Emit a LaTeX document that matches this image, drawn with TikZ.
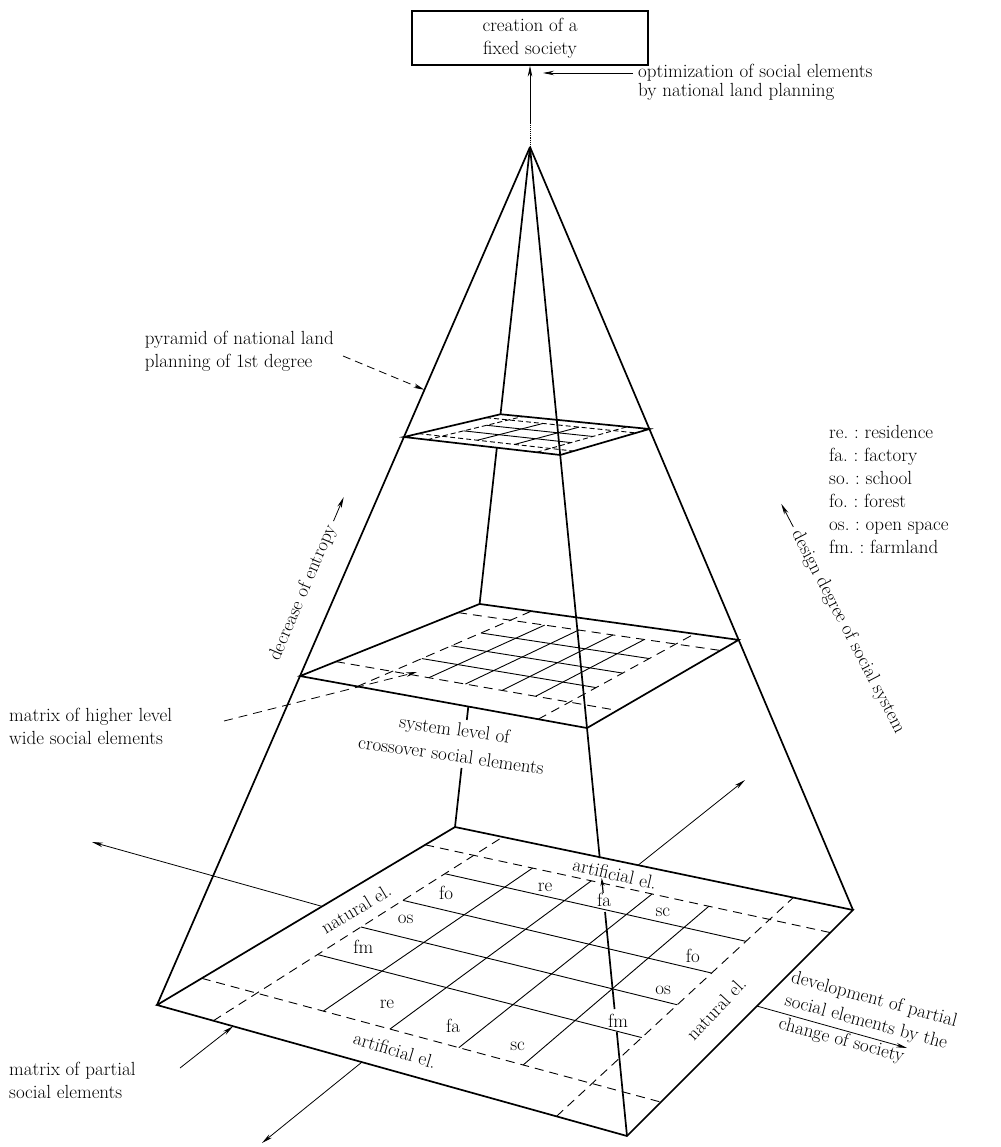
\documentclass[tikz,border=0pt]{standalone}
\usepackage{fontspec}
\usetikzlibrary{calc,arrows.meta}
\frenchspacing
\newcommand\lab{\fontsize{19}{23}\selectfont\addfontfeatures{LetterSpace=6}}
\newcommand\planept[4]{%
  \path ($(#1L)!#2!(#1F)$) coordinate (tmpa);
  \path ($(#1B)!#2!(#1R)$) coordinate (tmpb);
  \path ($(tmpa)!#3!(tmpb)$) coordinate (#4);}
% constant-u segment: plane, u, v0, v1, style
\newcommand\useg[5]{\planept{#1}{#2}{#3}{sa}\planept{#1}{#2}{#4}{sb}\draw[#5] (sa) -- (sb);}
% constant-v segment: plane, v, u0, u1, style
\newcommand\vseg[5]{\planept{#1}{#3}{#2}{sa}\planept{#1}{#4}{#2}{sb}\draw[#5] (sa) -- (sb);}
\begin{document}
\begin{tikzpicture}[x=1pt,y=-1pt,
  edge/.style={line width=1.7pt},
  planeline/.style={line width=1.7pt, line join=miter},
  gridl/.style={line width=0.9pt},
  dsh/.style={line width=0.9pt, dash pattern=on 9pt off 6pt},
  arr/.style={line width=0.8pt, -{Stealth[length=11pt,width=4.5pt]}},
  txt/.style={font=\lab, inner sep=1pt},
]
\useasboundingbox (0,0) rectangle (1000,1147);

% ---------- main points ----------
\coordinate (A) at (530,147);
\coordinate (bL) at (157,1005);
\coordinate (bB) at (455,827);
\coordinate (bR) at (853,910);
\coordinate (bF) at (627,1136);
\coordinate (mL) at ($(A)!0.6166!(bL)$);
\coordinate (mB) at ($(A)!0.672!(bB)$);
\coordinate (mR) at ($(A)!0.646!(bR)$);
\coordinate (mF) at ($(A)!0.5875!(bF)$);
\coordinate (uL) at ($(A)!0.338!(bL)$);
\coordinate (uB) at ($(A)!0.393!(bB)$);
\coordinate (uR) at ($(A)!0.3696!(bR)$);
\coordinate (uF) at ($(A)!0.3114!(bF)$);

% ---------- upper plane grid ----------
\foreach \u in {0.15,0.85} {\draw[dsh,dash pattern=on 5pt off 3pt] ($(uL)!\u!(uF)$) -- ($(uB)!\u!(uR)$);}
\foreach \v in {0.15,0.85} {\draw[dsh,dash pattern=on 5pt off 3pt] ($(uL)!\v!(uB)$) -- ($(uF)!\v!(uR)$);}
\foreach \u in {0.38,0.62} {\useg{u}{\u}{0.15}{0.85}{gridl}}
\foreach \v in {0.38,0.62} {\vseg{u}{\v}{0.15}{0.85}{gridl}}
\draw[planeline] (uL) -- (uB) -- (uR) -- (uF) -- cycle;

% ---------- middle plane grid ----------
\foreach \u in {0.2,0.83} {\draw[dsh] ($(mL)!\u!(mF)$) -- ($(mB)!\u!(mR)$);}
\foreach \v in {0.2,0.88} {\draw[dsh] ($(mL)!\v!(mB)$) -- ($(mF)!\v!(mR)$);}
\foreach \u in {0.33,0.46,0.59,0.71} {\useg{m}{\u}{0.2}{0.88}{gridl}}
\foreach \v in {0.37,0.54,0.71} {\vseg{m}{\v}{0.2}{0.83}{gridl}}
\draw[planeline] (mL) -- (mB) -- (mR) -- (mF) -- cycle;

% ---------- bottom plane grid ----------
\foreach \u in {0.12,0.85} {\draw[dsh] ($(bL)!\u!(bF)$) -- ($(bB)!\u!(bR)$);}
\foreach \v in {0.15,0.9} {\draw[dsh] ($(bL)!\v!(bB)$) -- ($(bF)!\v!(bR)$);}
\foreach \u in {0.265,0.41,0.56,0.70} {\useg{b}{\u}{0.15}{0.9}{gridl}}
\foreach \v in {0.36,0.51,0.655,0.80} {\vseg{b}{\v}{0.12}{0.85}{gridl}}
\draw[planeline] (bL) -- (bB) -- (bR) -- (bF) -- cycle;

% ---------- pyramid edges ----------
\draw[edge] (A) -- (bL);
\draw[edge] (A) -- (bR);
% front edge (drawn over planes, broken at labels)
\draw[edge] (A) -- ($(A)!0.7189!(bF)$);
\draw[line width=1.2pt, -{Stealth[length=8pt,width=4pt]}] ($(A)!0.7543!(bF)$) -- ($(A)!0.7391!(bF)$);
\draw[edge] ($(A)!0.7735!(bF)$) -- ($(A)!0.8716!(bF)$);
\draw[edge] ($(A)!0.8948!(bF)$) -- (bF);
% back edge (hidden behind planes)
\draw[edge] (A) -- (uB);
\coordinate (bk1) at (intersection of A--bB and uL--uF);
\draw[edge] (bk1) -- (mB);
\coordinate (bk2) at (intersection of A--bB and mL--mF);
\draw[edge] (bk2) -- ($(A)!0.8426!(bB)$);
\draw[edge] ($(A)!0.9132!(bB)$) -- (bB);

% ---------- top box and arrows ----------
\node[txt, draw, line width=1.3pt, minimum width=236pt, minimum height=54pt, align=center] (soc) at (530,38) {creation of a\\fixed society};
\coordinate (vtop) at (530,123);
\draw[densely dotted, line width=0.9pt] (A) -- (vtop);
\draw[arr] (vtop) -- (soc.south);
\node[txt, anchor=west, align=left, font=\fontsize{19}{19}\selectfont\addfontfeatures{LetterSpace=6}] (opt) at (637,82) {optimization of social elements\\by national land planning};
\coordinate (optT) at (633,73);
\coordinate (optH) at (543,73);
\draw[arr] (optT) -- (optH);

% ---------- side labels ----------
\node[txt, align=left, anchor=east] (pyr) at (335,351) {pyramid of national land\\planning of 1st degree};
\coordinate (pyrT) at (343,356);
\coordinate (pyrH) at ($(A)!0.283!(bL)$);
\draw[arr, dash pattern=on 8pt off 5pt] (pyrT) -- (pyrH);

\node[txt, align=left, anchor=west] (hml) at (8,726) {matrix of higher level\\wide social elements};
\coordinate (hmlT) at (224,721);
\coordinate (hmlH) at (417,672);
\draw[arr, dash pattern=on 9pt off 6pt] (hmlT) -- (hmlH);

\node[txt, align=left, anchor=west] (mpl) at (8,1080) {matrix of partial\\social elements};
\coordinate (mplT) at (180,1068);
\coordinate (mplH) at ($(bL)!0.162!(bF)$);
\draw[arr] (mplT) -- (mplH);

\node[txt, rotate=67] (ent) at (303,593) {decrease of entropy};
\draw[arr] ($(ent.east)+(67:4pt)$) -- ++(67:26pt);

\node[txt, rotate=-62.5] (des) at (848,632) {design degree of social system};
\draw[arr] ($(des.west)+(117.5:4pt)$) -- ++(117.5:26pt);

\node[txt, rotate=-8, align=center, font=\fontsize{19}{26}\selectfont\addfontfeatures{LetterSpace=6}] (sys) at (453,742) {system level of\\crossover social elements};

\node[txt, anchor=west, align=left] (leg) at (828,489) {re. : residence\\fa. : factory\\so. : school\\fo. : forest\\os. : open space\\fm. : farmland};

\node[txt, rotate=-15, align=left, anchor=north west, font=\fontsize{19}{24}\selectfont\addfontfeatures{LetterSpace=6}] (dev) at (793,968) {development of partial\\social elements by the\\change of society};

% ---------- axis arrows of the bottom plane ----------
\coordinate (axL) at (92,842);
\coordinate (axR) at (907,1048);
\coordinate (axB) at (745,780);
\coordinate (axF) at (262,1143);
\draw[arr] ($(bL)!0.554!(bB)$) -- (axL);
\draw[arr] ($(bF)!0.575!(bR)$) -- (axR);
\draw[arr] ($(bB)!0.46!(bR)$) -- (axB);
\draw[arr] ($(bL)!0.436!(bF)$) -- (axF);

% ---------- strip labels ----------
\node[txt, rotate=-17] (art1) at (395,1050) {artificial el.};
\node[txt, rotate=-13] (art2) at (615,874) {artificial el.};
\node[txt, rotate=31] (nat1) at (356,909) {natural el.};
\node[txt, rotate=47] (nat2) at (716,1009) {natural el.};

% ---------- cell labels ----------
\planept{b}{0.175}{0.725}{c1}\node[txt] (lfo1) at (c1) {fo};
\planept{b}{0.175}{0.583}{c2}\node[txt] (los1) at (c2) {os};
\planept{b}{0.175}{0.435}{c3}\node[txt] (lfm1) at (c3) {fm};
\planept{b}{0.35}{0.24}{c4}\node[txt] (lre1) at (c4) {re};
\planept{b}{0.505}{0.225}{c5}\node[txt] (lfa1) at (c5) {fa};
\planept{b}{0.655}{0.21}{c6}\node[txt] (lsc1) at (c6) {sc};
\planept{b}{0.34}{0.835}{c7}\node[txt] (lre2) at (c7) {re};
\planept{b}{0.483}{0.836}{c8}\node[txt] (lfa2) at (c8) {fa};
\planept{b}{0.624}{0.84}{c9}\node[txt] (lsc2) at (c9) {sc};
\planept{b}{0.78}{0.70}{c10}\node[txt] (lfo2) at (c10) {fo};
\planept{b}{0.795}{0.55}{c11}\node[txt] (los2) at (c11) {os};
\planept{b}{0.775}{0.40}{c12}\node[txt] (lfm2) at (c12) {fm};
\end{tikzpicture}
\end{document}
